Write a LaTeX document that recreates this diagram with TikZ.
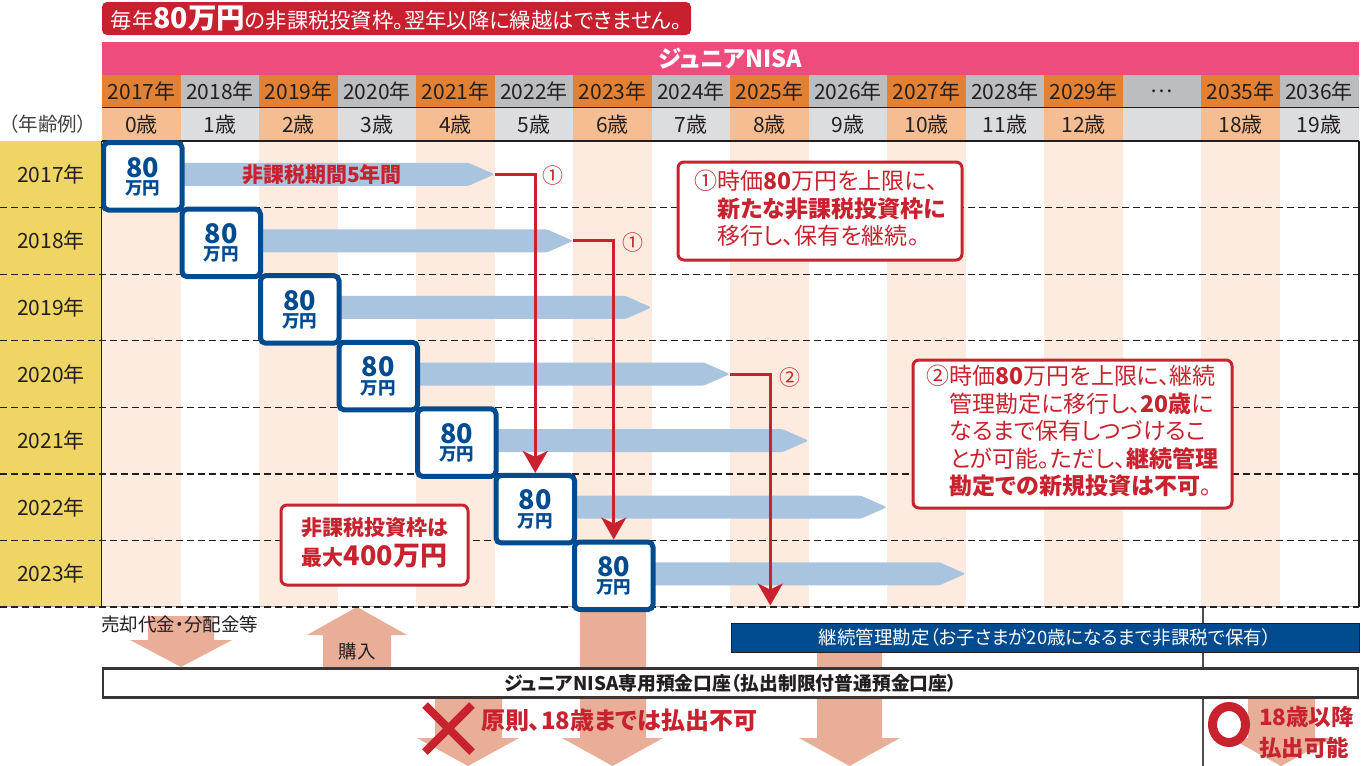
\documentclass[tikz,border=0pt]{standalone}
\usepackage{fontspec}
\newfontfamily\jp[RawFeature=+palt]{Noto Sans CJK JP}
\usetikzlibrary{arrows.meta}
\definecolor{tred}{RGB}{200,32,47}
\definecolor{rl}{RGB}{201,34,47}
\definecolor{pinkbar}{RGB}{238,76,125}
\definecolor{hor}{RGB}{226,129,52}
\definecolor{hgr}{RGB}{188,189,191}
\definecolor{aor}{RGB}{244,190,146}
\definecolor{agr}{RGB}{220,221,223}
\definecolor{stripe}{RGB}{252,235,222}
\definecolor{ylw}{RGB}{239,214,100}
\definecolor{navy}{RGB}{0,74,143}
\definecolor{lblue}{RGB}{169,196,222}
\definecolor{salmon}{RGB}{233,174,152}
\definecolor{ink}{RGB}{35,31,32}
\newcommand\fsz[1]{\fontsize{#1}{#1}\selectfont}
\newcommand\fsl[2]{\fontsize{#1}{#2}\selectfont}
\begin{document}
\begin{tikzpicture}[x=1pt,y=-1pt,
  every node/.style={inner sep=0pt,outer sep=0pt,font=\jp},
  hdr/.style={minimum width=79,minimum height=32.5,anchor=north west,text=ink,font=\jp\fsz{21}},
  agecell/.style={minimum width=79,minimum height=33.5,anchor=north west,text=ink,font=\jp\fsz{21}},
  box/.style={draw=navy,fill=white,line width=5pt,rounded corners=5pt,minimum width=78.5,minimum height=67.5,outer sep=2.5pt},
  redl/.style={draw=rl,line width=3pt,-{Stealth[length=22pt,width=25pt,inset=6pt]}},
  callout/.style={draw=rl,fill=white,line width=3pt,rounded corners=6pt,anchor=north west,text=rl},
  rowline/.style={draw=ink,line width=1.3pt,dash pattern=on 7pt off 4pt},
  salm/.style={fill=salmon}]
\useasboundingbox (0,0) rectangle (1361,766);
\fill[white] (0,0) rectangle (1361,766);

% stripes and yellow column
\foreach \i in {0,2,...,14} \fill[stripe] ({102+78.5*\i},141) rectangle ({180.5+78.5*\i},606.5);
\fill[ylw] (0,141) rectangle (100.5,606.5);

% bottom separator line
\draw[ink!80,line width=1.2pt] (1203,606.5) -- (1203,766);

% salmon arrows
\fill[salm] (148,616) -- (214,616) -- (214,640) -- (232,640) -- (181,667) -- (130,640) -- (148,640) -- cycle;
\fill[salm] (357,607) -- (407,635) -- (391,635) -- (391,668) -- (323,668) -- (323,635) -- (307,635) -- cycle;
\fill[salm] (580,606) -- (646,606) -- (646,738) -- (663,738) -- (612.5,766) -- (562,738) -- (580,738) -- cycle;
\fill[salm] (435,698) -- (502,698) -- (502,738) -- (519,738) -- (468,766) -- (417,738) -- (435,738) -- cycle;
\fill[salm] (817,651) -- (882,651) -- (882,738) -- (900,738) -- (849.5,766) -- (799,738) -- (817,738) -- cycle;
\fill[salm] (1248,698) -- (1315,698) -- (1315,738) -- (1332,738) -- (1281,766) -- (1230,738) -- (1248,738) -- cycle;

% title
\node[fill=tred,rounded corners=5pt,minimum width=589,minimum height=33,anchor=north west] (title) at (102,2) {};
\node[text=white] (titletext) at (title.center)
  {\fsz{21.3}毎年{\fsz{28.5}\bfseries 80万円}の非課税投資枠。翌年以降に繰越はできません。};

% pink bar
\node[fill=pinkbar,minimum width=1256.5,minimum height=33,anchor=north west,text=white,font=\jp\bfseries\fsz{23.5}] (bar) at (102,42) {ジュニアNISA};

% headers
\foreach \i/\lab/\hc in {0/2017年/hor,1/2018年/hgr,2/2019年/hor,3/2020年/hgr,4/2021年/hor,5/2022年/hgr,6/2023年/hor,7/2024年/hgr,8/2025年/hor,9/2026年/hgr,10/2027年/hor,11/2028年/hgr,12/2029年/hor,13/…/hgr,14/2035年/hor,15/2036年/hgr}
  \node[hdr,fill=\hc] (yr\i) at ({102+78.5*\i},75) {\lab};
\foreach \i/\lab/\ac in {0/0歳/aor,1/1歳/agr,2/2歳/aor,3/3歳/agr,4/4歳/aor,5/5歳/agr,6/6歳/aor,7/7歳/agr,8/8歳/aor,9/9歳/agr,10/10歳/aor,11/11歳/agr,12/12歳/aor,13//agr,14/18歳/aor,15/19歳/agr}
  \node[agecell,fill=\ac] (ag\i) at ({102+78.5*\i},107.5) {\lab};
\node[text=ink!85,font=\jp\fsz{19.5}] (agelbl) at (48,124) {（年齢例）};
\draw[ink,line width=1.5pt] (102,107.5) -- (1358.5,107.5);
\draw[ink,line width=1.5pt] (102,141) -- (1359,141);

% grid lines
\draw[ink,line width=1.3pt] (101.5,141) -- (101.5,606.5);
\draw[ink,line width=1.3pt] (1359,141) -- (1359,606.5);
\draw[ink!40,line width=1.5pt] (0,606.5) -- (1359,606.5);
\foreach \j in {1,...,7} \draw[rowline] (0,{141+66.58*\j}) -- (1359,{141+66.58*\j});

% row labels
\foreach \j/\lab in {0/2017年,1/2018年,2/2019年,3/2020年,4/2021年,5/2022年,6/2023年}
  \node[text=ink,font=\jp\fsz{21}] (rw\j) at (51,{141+66.58*(\j+0.5)}) {\lab};

% blue arrows and boxes
\foreach \i in {0,...,6}{
  \pgfmathsetmacro\cy{141+66.58*(\i+0.5)}
  \pgfmathsetmacro\cx{102+78.5*(\i+0.5)}
  \pgfmathsetmacro\tx{102+78.5*(\i+5)}
  \fill[lblue,rounded corners=1.5pt] (\cx,\cy-11.5) -- (\tx-26,\cy-11.5) -- (\tx,\cy) -- (\tx-26,\cy+11.5) -- (\cx,\cy+11.5) -- cycle;
  \coordinate (t\i) at (\tx,\cy);
  \node[box] (b\i) at (\cx+1.5,\cy+2) {};
  \node[text=navy,font=\jp\bfseries\fsz{27}] (n\i) at (\cx+1.5,\cy-7) {80};
  \node[text=navy,font=\jp\bfseries\fsz{17.5}] (m\i) at (\cx+1.5,\cy+14) {万円};
}
\node[text=rl,font=\jp\bfseries\fsz{21}] (per) at (322,175) {非課税期間5年間};

% red connectors
\coordinate (e3) at (770.25,605.5);
\draw[redl] (t0) -| (b5.north);
\draw[redl] (t1) -| (b6.north);
\draw[redl] (t3) -| (e3);
\node[text=rl,font=\jp\fsz{21}] (k1) at (553,176) {①};
\node[text=rl,font=\jp\fsz{21}] (k2) at (633,243) {①};
\node[text=rl,font=\jp\fsz{21}] (k3) at (790,378) {②};

% callouts
\node[callout,minimum width=284,minimum height=98] (c1) at (678,162)
  {\fsl{23}{26}\begin{tabular}{@{}l@{}l@{}}①&時価{\bfseries 80}万円を上限に、\\&{\bfseries 新たな非課税投資枠に}\\&移行し、保有を継続。\end{tabular}};
\node[callout,minimum width=319,minimum height=148] (c2) at (913,360)
  {\fsl{23}{26}\begin{tabular}{@{}l@{}l@{}}②&時価{\bfseries 80}万円を上限に、継続\\&管理勘定に移行し、{\bfseries 20歳}に\\&なるまで保有しつづけるこ\\&とが可能。ただし、{\bfseries 継続管理}\\&{\bfseries 勘定での新規投資は不可}。\end{tabular}};
\node[callout,minimum width=187,minimum height=80] (c3) at (281,505)
  {\fsl{21}{28}\begin{tabular}{@{}c@{}}\bfseries 非課税投資枠は\\\bfseries 最大{\fsz{27}400万円}\end{tabular}};

% bottom area
\node[text=ink,font=\jp\fsz{18.5},anchor=west] (sell) at (101,624) {売却代金・分配金等};
\node[text=ink,font=\jp\fsz{18.5}] (buy) at (357,651) {購入};
\node[fill=navy,draw=ink,line width=1pt,minimum width=628,minimum height=29,anchor=north west,text=white,font=\jp\fsz{18.5}] (kz) at (731,623)
  {継続管理勘定（お子さまが20歳になるまで非課税で保有）};
\node[fill=white,draw=ink!90,line width=2.5pt,minimum width=1255,minimum height=29,anchor=north west,text=ink,font=\jp\bfseries\fsz{18.8}] (acct) at (103,668.5)
  {ジュニアNISA専用預金口座（払出制限付普通預金口座）};

% X and O
\draw[rl,line width=8pt] (425,705) -- (472,752) (472,705) -- (425,752);
\node[text=rl,font=\jp\bfseries\fsz{24},anchor=west] (ng) at (481,720) {原則、18歳までは払出不可};
\draw[rl,line width=9pt] (1229,724.5) ellipse [x radius=16.5, y radius=18];
\node[text=rl,font=\jp\bfseries\fsz{22.5},anchor=west] (ok1) at (1259,717) {18歳以降};
\node[text=rl,font=\jp\bfseries\fsz{22.5},anchor=west] (ok2) at (1259,748) {払出可能};
\end{tikzpicture}
\end{document}
